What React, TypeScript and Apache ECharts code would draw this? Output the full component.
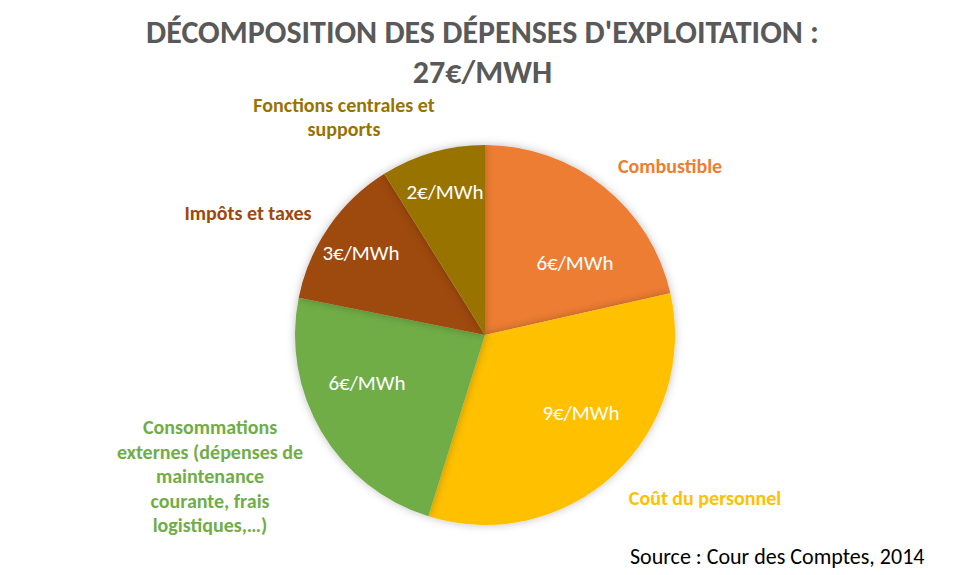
import React, { useEffect, useRef } from "react";
import * as echarts from "echarts";

const categories = [
  "Combustible",
  "Coût du personnel",
  "Consommations\nexternes (dépenses de\nmaintenance\ncourante, frais\nlogistiques,…)",
  "Impôts et taxes",
  "Fonctions centrales et\nsupports",
];
const values = [5.8, 9.0, 6.3, 3.5, 2.4];
const valueLabels = ["6€/MWh", "9€/MWh", "6€/MWh", "3€/MWh", "2€/MWh"];
const colors = ["#ED7D31", "#FFC000", "#70AD47", "#9E480E", "#997300"];

// label layout positions (pixels)
const innerPos = [
  [575, 263],
  [581, 413],
  [367, 383],
  [361, 253],
  [445, 192],
];
const outerPos = [
  [670, 166],
  [705, 498],
  [210, 476],
  [248, 213],
  [344, 117],
];

const FONT = "Carlito, Lato, 'Open Sans', sans-serif";

export default function App() {
  const ref = useRef<HTMLDivElement>(null);
  useEffect(() => {
    document.body.style.margin = "0";
    const chart = echarts.init(ref.current!, null, { renderer: "svg" });
    const data = categories.map((c, i) => ({
      name: c,
      value: values[i],
      itemStyle: { color: colors[i] },
    }));
    chart.setOption({
      animation: false,
      backgroundColor: "#ffffff",
      title: {
        text: "DÉCOMPOSITION DES DÉPENSES D'EXPLOITATION :\n27€/MWH",
        left: "center",
        top: 7,
        textStyle: {
          fontFamily: FONT,
          fontSize: 32,
          fontWeight: "bold",
          color: "#595959",
          lineHeight: 40,
        },
      },
      graphic: [
        {
          type: "text",
          left: 630,
          top: 545,
          style: {
            text: "Source : Cour des Comptes, 2014",
            font: `22px ${FONT}`,
            fill: "#000000",
          },
        },
      ],
      series: [
        {
          type: "pie",
          center: [485, 335],
          radius: [0, 190],
          startAngle: 90,
          clockwise: true,
          silent: true,
          data,
          itemStyle: {
            shadowBlur: 8,
            shadowColor: "rgba(0,0,0,0.25)",
          },
          label: {
            show: true,
            position: "inside",
            formatter: (p: any) => valueLabels[p.dataIndex],
            color: "#ffffff",
            fontFamily: FONT,
            fontSize: 21,
          },
          labelLine: { show: false },
          labelLayout: (p: any) => ({
            x: innerPos[p.dataIndex][0],
            y: innerPos[p.dataIndex][1],
            align: "center",
            verticalAlign: "middle",
          }),
        },
        {
          type: "pie",
          center: [485, 335],
          radius: [0, 190],
          startAngle: 90,
          clockwise: true,
          silent: true,
          data: categories.map((c, i) => ({
            name: c,
            value: values[i],
            itemStyle: { color: "rgba(0,0,0,0)" },
            label: { color: colors[i] },
          })),
          label: {
            show: true,
            position: "outside",
            formatter: (p: any) => p.name,
            fontFamily: FONT,
            fontSize: 20,
            fontWeight: "bold",
            lineHeight: 24.5,
            align: "center",
          },
          labelLine: { show: false },
          labelLayout: (p: any) => ({
            x: outerPos[p.dataIndex][0],
            y: outerPos[p.dataIndex][1],
            align: "center",
            verticalAlign: "middle",
          }),
        },
      ],
    });
    return () => chart.dispose();
  }, []);
  return <div ref={ref} style={{ width: 965, height: 575 }} />;
}
